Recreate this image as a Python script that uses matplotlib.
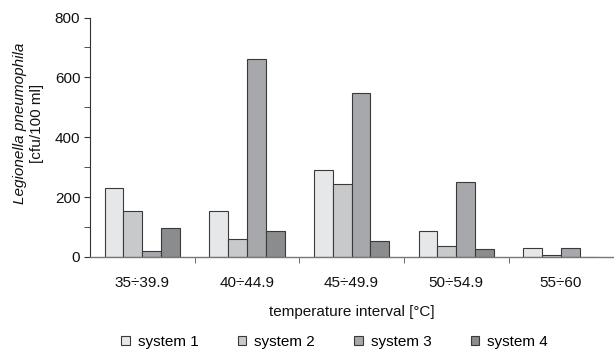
import matplotlib.pyplot as plt
import numpy as np

plt.rcParams['font.family'] = ['Liberation Sans', 'DejaVu Sans']
plt.rcParams['font.size'] = 11

intervals = ['35÷39.9', '40÷44.9', '45÷49.9', '50÷54.9', '55÷60']
system1 = [230, 153, 292, 88, 31]
system2 = [153, 61, 242, 37, 5]
system3 = [21, 662, 549, 251, 31]
system4 = [98, 88, 52, 27, 0]
series = [system1, system2, system3, system4]
names = ['system 1', 'system 2', 'system 3', 'system 4']
colors = ['#e6e7e8', '#c8c9cb', '#a7a8ab', '#8b8c8e']

fig = plt.figure(figsize=(6.14, 3.5), dpi=100)
ax = fig.add_axes([0.1466, 0.266, 0.852, 0.684])

x = np.arange(len(intervals))
w = 0.18
for i, (vals, c, n) in enumerate(zip(series, colors, names)):
    ax.bar(x + (i - 1.5) * w, vals, w, color=c, edgecolor='#3a3a3a',
           linewidth=0.8, label=n)

ax.set_xlim(-0.5, len(intervals) - 0.5)
ax.set_ylim(0, 800)
ax.set_yticks([0, 200, 400, 600, 800])
ax.set_yticks([100, 300, 500, 700], minor=True)
ax.tick_params(axis='y', which='both', direction='out', length=4,
               color='#333333', labelcolor='#111111', pad=3)
ax.set_xticks(x)
ax.set_xticklabels(intervals)
ax.set_xticks(np.arange(0.5, len(intervals) - 0.5), minor=True)
ax.tick_params(axis='x', which='major', length=0, pad=13.5, labelcolor='#111111')
ax.tick_params(axis='x', which='minor', length=4, direction='out', color='#555555')

for s in ['top', 'right']:
    ax.spines[s].set_visible(False)
ax.spines['left'].set_color('#333333')
ax.spines['bottom'].set_color('#777777')
ax.spines['bottom'].set_linewidth(1.0)

ax.set_xlabel('temperature interval [°C]', labelpad=11, color='#111111')
fig.text(0.032, 0.647, 'Legionella pneumophila', rotation=90, style='italic',
         ha='center', va='center', color='#111111')
fig.text(0.061, 0.647, '[cfu/100 ml]', rotation=90,
         ha='center', va='center', color='#111111')

fig.legend(loc='center', bbox_to_anchor=(0.545, 0.024), ncol=4, frameon=False,
           handlelength=0.55, handleheight=0.55, handletextpad=0.5,
           columnspacing=2.6, fontsize=11)

fig.savefig('out.png', dpi=100)
